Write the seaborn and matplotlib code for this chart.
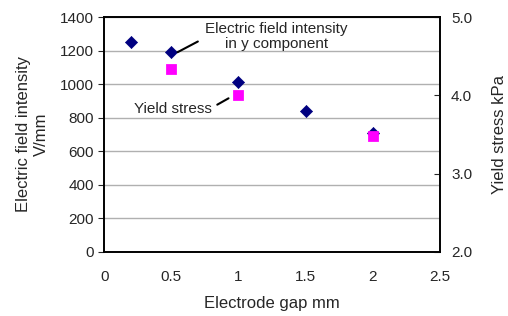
import numpy as np
import seaborn as sns
import matplotlib.pyplot as plt

# electric field intensity in y component (V/mm)
gap_field = [0.2, 0.5, 1.0, 1.5, 2.0]
field = [1250, 1190, 1010, 840, 710]

# yield stress (kPa)
gap_stress = [0.5, 1.0, 2.0]
stress = [4.33, 4.0, 3.48]

sns.set_style("white")
plt.rcParams['font.family'] = ['Liberation Sans', 'DejaVu Sans']

fig, ax = plt.subplots(figsize=(5.08, 3.16), dpi=100)
fig.subplots_adjust(left=0.205, right=0.866, top=0.946, bottom=0.203)

ax.grid(axis="y", color="#b0b0b0", lw=1)
sns.scatterplot(x=gap_field, y=field, ax=ax, marker="D", s=38,
                color="#000080", edgecolor="#000080", zorder=3)
ax.set_xlim(0, 2.5)
ax.set_ylim(0, 1400)
ax.set_xticks(np.arange(0, 2.51, 0.5))
ax.set_xticklabels(["0", "0.5", "1", "1.5", "2", "2.5"])
ax.set_yticks(range(0, 1401, 200))
ax.tick_params(axis="x", direction="in", length=4, labelsize=11, pad=13)
ax.tick_params(axis="y", direction="out", length=4, labelsize=11, left=True)
ax.set_xlabel("Electrode gap mm", fontsize=12, labelpad=9)
ax.set_ylabel("Electric field intensity\nV/mm", fontsize=12, labelpad=8)
for s in ax.spines.values():
    s.set_color("black")
    s.set_linewidth(1.2)

ax2 = ax.twinx()
sns.scatterplot(x=gap_stress, y=stress, ax=ax2, marker="s", s=48,
                color="#ff00ff", edgecolor="#ff00ff", zorder=4)
ax2.set_ylim(2.0, 5.0)
ax2.set_yticks([2.0, 3.0, 4.0, 5.0])
ax2.set_yticklabels(["2.0", "3.0", "4.0", "5.0"])
ax2.tick_params(axis="y", direction="in", length=4, labelsize=11, right=True, pad=8)
ax2.set_ylabel("Yield stress kPa", fontsize=12, labelpad=14)
ax2.grid(False)
for s in ax2.spines.values():
    s.set_color("black")
    s.set_linewidth(1.2)

ax.annotate("Electric field intensity\nin y component", xy=(0.51, 1175),
            xytext=(1.28, 1285), ha="center", va="center", fontsize=11,
            linespacing=1.15,
            arrowprops=dict(arrowstyle="-", color="black", lw=1.5,
                            shrinkA=3, shrinkB=4, relpos=(0.0, 0.45)))
ax.annotate("Yield stress", xy=(0.98, 940), xytext=(0.51, 850),
            ha="center", va="center", fontsize=11,
            arrowprops=dict(arrowstyle="-", color="black", lw=1.5,
                            shrinkA=2, shrinkB=6, relpos=(1.0, 0.6)))

fig.savefig("out.png", dpi=100)
